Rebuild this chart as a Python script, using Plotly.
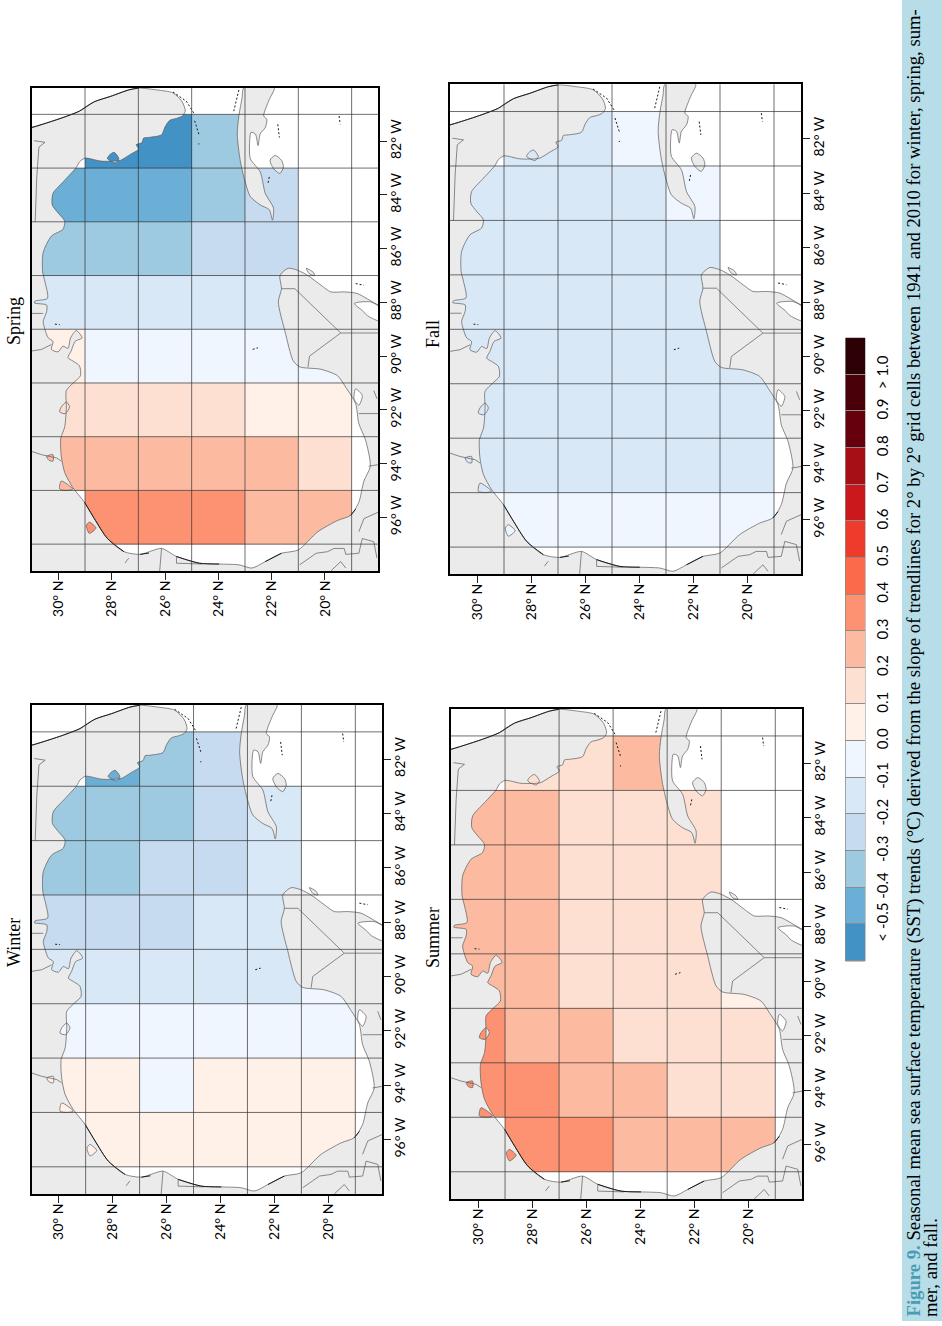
import plotly.graph_objects as go

nan = None

# grid cell centres, degrees
lats = [30, 28, 26, 24, 22, 20]
lons = [82, 84, 86, 88, 90, 92, 94, 96]
lat_grid = [29, 27, 25, 23, 21, 19]
lon_grid = [81, 83, 85, 87, 89, 91, 93, 95, 97]
lat_ticks = [30, 28, 26, 24, 22, 20]
lon_ticks = [82, 84, 86, 88, 90, 92, 94, 96]

# SST trend per cell (bin middle), rows by longitude, columns by latitude
winter = [
    [nan, -0.45, -0.35, -0.25, nan, nan],
    [-0.35, -0.35, -0.35, -0.25, -0.15, nan],
    [-0.35, -0.35, -0.25, -0.25, -0.15, nan],
    [-0.25, -0.25, -0.25, -0.15, -0.15, nan],
    [-0.15, -0.15, -0.15, -0.15, -0.15, -0.05],
    [-0.05, -0.05, -0.05, -0.05, -0.05, -0.05],
    [0.05, 0.05, -0.05, 0.05, 0.05, 0.05],
    [nan, 0.05, 0.05, 0.05, 0.05, 0.05],
]
spring = [
    [nan, -0.55, -0.55, -0.35, nan, nan],
    [-0.45, -0.45, -0.45, -0.35, -0.25, nan],
    [-0.35, -0.35, -0.35, -0.25, -0.25, nan],
    [-0.15, -0.15, -0.15, -0.15, -0.15, nan],
    [0.05, -0.05, -0.05, -0.05, -0.05, -0.05],
    [0.15, 0.15, 0.15, 0.15, 0.05, 0.05],
    [0.25, 0.25, 0.25, 0.25, 0.25, 0.15],
    [nan, 0.35, 0.35, 0.35, 0.25, 0.25],
]
summer = [
    [nan, 0.15, 0.15, 0.25, nan, nan],
    [0.25, 0.25, 0.15, 0.15, 0.15, nan],
    [0.25, 0.25, 0.15, 0.15, 0.15, nan],
    [0.25, 0.25, 0.15, 0.15, 0.15, nan],
    [0.25, 0.25, 0.15, 0.15, 0.15, 0.05],
    [0.35, 0.25, 0.25, 0.15, 0.15, 0.15],
    [0.35, 0.35, 0.25, 0.25, 0.15, 0.15],
    [nan, 0.35, 0.35, 0.25, 0.25, 0.25],
]
fall = [
    [nan, -0.15, -0.15, -0.05, nan, nan],
    [-0.15, -0.15, -0.15, -0.15, -0.05, nan],
    [-0.15, -0.15, -0.15, -0.15, -0.15, nan],
    [-0.15, -0.15, -0.15, -0.15, -0.15, nan],
    [-0.15, -0.15, -0.15, -0.15, -0.15, -0.15],
    [-0.15, -0.15, -0.15, -0.15, -0.15, -0.15],
    [-0.15, -0.15, -0.15, -0.15, -0.15, -0.15],
    [nan, -0.05, -0.05, -0.05, -0.05, -0.05],
]

# legend classes
bin_colors = ["#4292c6", "#6baed6", "#9ecae1", "#c6dbef", "#d8e8f7", "#eff6ff",
              "#fff0e8", "#fee0d2", "#fcbba1", "#fc9272", "#fb6a4a", "#ef3b2c",
              "#cb181d", "#a50f15", "#67000d", "#4a0008", "#2d0006"]
bin_mids = [-0.55, -0.45, -0.35, -0.25, -0.15, -0.05, 0.05, 0.15, 0.25, 0.35,
            0.45, 0.55, 0.65, 0.75, 0.85, 0.95, 1.05]
bin_ticks = [-0.5, -0.4, -0.3, -0.2, -0.1, 0.0, 0.1, 0.2, 0.3, 0.4, 0.5, 0.6,
             0.7, 0.8, 0.9, 1.0]
bin_labels = ["< -0.5", "-0.4", "-0.3", "-0.2", "-0.1", "0.0", "0.1", "0.2", "0.3",
              "0.4", "0.5", "0.6", "0.7", "0.8", "0.9", "> 1.0"]

land_lat = [32.0, 31.0, 30.5, 29.83, 29.21, 29.0, 28.65, 28.04, 27.36, 26.99, 26.31, 25.7, 25.35,
            25.24, 25.35, 25.57, 25.82, 26.0, 26.13, 26.62, 26.8, 26.87, 27.08, 26.99, 27.3,
            27.67, 27.85, 28.41, 29.0, 29.21, 29.33, 29.76, 30.2, 30.23, 30.01, 29.76, 29.83,
            30.26, 30.57, 30.59, 30.5, 30.41, 30.87, 30.9, 30.44, 30.44, 30.57, 30.5, 30.38,
            30.2, 30.26, 30.01, 29.83, 29.64, 29.54, 29.33, 29.11, 29.37, 29.52, 29.64, 29.46,
            29.21, 29.17, 29.42, 29.7, 29.7, 29.76, 29.91, 29.89, 29.76, 29.46, 29.02, 28.65,
            28.16, 27.54, 26.93, 26.13, 25.57, 24.71, 23.97, 23.23, 22.74, 22.24, 21.63, 21.01,
            20.27, 19.53, 19.04, 18.73, 18.54, 18.3, 18.48, 18.73, 18.85, 19.22, 19.53, 20.15,
            20.95, 21.19, 21.5, 21.75, 21.63, 21.69, 21.38, 21.01, 20.64, 20.15, 19.78, 19.28,
            18.79, 18.0, 17.0, 17.0, 32.0, 32.0, None,
            28.1, 28.16, 27.85, 27.73, 27.91, 28.1, None,
            29.7, 29.89, 29.95, 29.74, 29.58, 29.7, None,
            30.44, 30.35, 30.2, 30.2, 30.44, None,
            29.89, 29.95, 29.7, 29.46, 29.89, None,
            28.84, 28.95, 28.84, 28.59, 28.84, None,
            18.85, 18.91, 18.73, 18.6, 18.85, None,
            18.9, 18.6, 18.4, 17.9, 17.9, 18.3, 18.9, None,
            23.04, 21.9, 22.09, 22.3, 22.18, 22.24, 22.43, 22.51, 22.61, 22.77, 22.83, 22.8,
            22.43, 22.24, 21.93, 21.97, 22.09, 22.43, 22.8, 23.01, 23.18, 23.29, 23.23, 23.11,
            23.04, None,
            22.06, 21.87, 21.63, 21.56, 21.69, 21.93, 22.06, None,
            20.7, 20.45, 20.39, 20.58, 20.7]
land_lon = [81.55, 81.49, 81.34, 81.12, 80.88, 80.73, 80.53, 80.33, 80.09, 80.02, 80.09, 80.2, 80.54,
            80.88, 81.06, 81.15, 81.22, 81.47, 81.76, 81.86, 81.88, 82.06, 82.13, 82.29, 82.49,
            82.71, 82.74, 82.74, 82.63, 82.77, 82.98, 83.45, 83.94, 84.37, 84.67, 84.98, 85.28,
            85.53, 86.14, 86.87, 87.24, 87.85, 87.95, 88.02, 88.1, 88.34, 88.71, 89.02, 89.32,
            89.45, 89.75, 89.84, 89.63, 89.71, 89.32, 89.05, 89.32, 89.45, 89.81, 90.06, 90.18,
            90.36, 90.73, 90.98, 91.28, 91.89, 92.63, 93.06, 93.73, 94.34, 94.89, 95.44, 96.05,
            96.79, 97.28, 97.38, 97.16, 97.46, 97.71, 97.74, 97.77, 97.89, 97.65, 97.34, 97.22,
            96.54, 96.12, 95.93, 95.44, 94.65, 94.1, 93.12, 92.51, 91.77, 91.16, 90.73, 90.49,
            90.4, 90.18, 89.08, 87.98, 87.49, 87.0, 86.73, 86.81, 87.0, 87.36, 87.61, 87.61,
            87.67, 88.1, 88.5, 99.0, 99.0, 81.55, None,
            82.53, 82.65, 82.8, 82.65, 82.41, 82.53, None,
            91.71, 91.89, 92.08, 92.14, 91.89, 91.71, None,
            93.73, 93.88, 93.91, 93.67, 93.73, None,
            94.65, 94.95, 95.0, 94.95, 94.65, None,
            96.18, 96.3, 96.6, 96.4, 96.18, None,
            91.22, 91.59, 91.83, 91.47, 91.22, None,
            88.04, 88.3, 88.5, 88.7, 88.22, 87.98, 88.04, None,
            80.0, 80.0, 80.45, 81.06, 81.18, 81.49, 81.73, 82.16, 81.73, 81.67, 82.1, 82.65,
            83.14, 83.94, 84.49, 84.94, 84.55, 84.37, 84.06, 83.45, 82.71, 81.73, 81.06, 80.39,
            80.0, None,
            82.71, 82.53, 82.71, 82.96, 83.2, 83.02, 82.71, None,
            86.73, 86.87, 87.0, 86.94, 86.73]

# state and river lines
border_lat = [30.91, 30.5, 30.73, 30.81, 30.87, None,
              31.0, 30.63, 30.07, 29.89, None,
              31.0, 30.63, 30.26, None,
              31.0, 30.57, None,
              21.63, 21.13, 19.41, 18.0, None,
              19.41, 20.58, 20.64, None,
              20.95, 20.33, 19.9, 19.66, 19.28, 19.22, 18.73, 18.6, 18.17, 18.05, None,
              19.78, 19.41, 19.22, None,
              18.73, 18.54, 18.0, None,
              18.36, 18.0, None,
              18.73, 18.0, None,
              18.17, 18.05, None,
              26.13, 26.2, None,
              25.57, 25.57, 24.59, None,
              27.36, 27.5]
border_lon = [81.98, 82.04, 82.22, 83.33, 85.0, None,
              93.55, 93.67, 93.79, 93.91, None,
              89.81, 89.75, 89.57, None,
              88.41, 88.41, None,
              87.49, 87.49, 89.14, 89.14, None,
              89.14, 90.0, 90.42, None,
              97.77, 97.34, 97.28, 97.16, 97.16, 97.38, 97.34, 96.79, 96.91, 97.52, None,
              98.0, 97.65, 97.89, None,
              96.54, 96.05, 95.81, None,
              94.1, 94.04, None,
              92.14, 92.14, None,
              91.28, 91.59, None,
              97.16, 98.0, None,
              97.46, 97.71, 97.74, None,
              97.52, 97.7]

# dark barrier islands
barrier_lat = [31.0, 30.5, 29.83, 29.21, 28.65, 28.04, 27.36, 26.99, None,
               29.02, 28.65, 28.16, 27.54, None,
               26.93, 26.6, None,
               25.57, 24.71, 23.97, None,
               22.24, 21.63, None,
               19.04, 18.85]
barrier_lon = [81.49, 81.34, 81.12, 80.88, 80.53, 80.33, 80.09, 80.02, None,
               95.44, 96.05, 96.79, 97.28, None,
               97.38, 97.33, None,
               97.46, 97.71, 97.74, None,
               97.65, 97.34, None,
               95.93, 95.7]

# keys and small islands, broken up
keys_lat = [25.7, 25.2, 24.89, None, 24.89, 24.71, None, 24.73, 24.73, None,
            23.23, 23.42, None, 21.77, 21.71, None, 19.47, 19.43, None,
            18.85, 18.54, None, 22.71, 22.51, None, 30.13, 29.95, None, 22.09, 22.14]
keys_lon = [80.17, 80.51, 81.0, None, 81.24, 81.8, None, 82.08, 82.12, None,
            80.09, 80.88, None, 81.37, 81.86, None, 81.06, 81.37, None,
            87.3, 87.36, None, 89.75, 89.69, None, 88.81, 88.83, None, 83.33, 83.57]

W, H = 942, 1326
panels = [
    dict(name="Spring", z=spring, box=(31.7, 378.3, 87.5, 571), title_x=14, title_y=321),
    dict(name="Winter", z=winter, box=(31.7, 382.3, 704.7, 1194), title_x=14, title_y=943),
    dict(name="Summer", z=summer, box=(451, 802.3, 708.7, 1199), title_x=433, title_y=938),
    dict(name="Fall", z=fall, box=(450, 801, 84.3, 574.3), title_x=433, title_y=334),
]

colorscale = []
for i, c in enumerate(bin_colors):
    colorscale += [[i / len(bin_colors), c], [(i + 1) / len(bin_colors), c]]

fig = go.Figure()
shapes = []
annotations = []
layout = {}

for n, p in enumerate(panels, start=1):
    xa, ya = ("x", "y") if n == 1 else (f"x{n}", f"y{n}")
    fig.add_trace(go.Heatmap(x=lats, y=lons, z=p["z"], xaxis=xa, yaxis=ya, zmin=-0.6, zmax=1.1,
                             colorscale=colorscale, showscale=False, hoverongaps=False))
    fig.add_trace(go.Scatter(x=land_lat, y=land_lon, xaxis=xa, yaxis=ya, mode="lines", fill="toself",
                             fillcolor="#ebebeb", hoverinfo="skip",
                             line=dict(color="#5a5a5a", width=0.7, shape="spline", smoothing=0.7)))
    fig.add_trace(go.Scatter(x=border_lat, y=border_lon, xaxis=xa, yaxis=ya, mode="lines",
                             line=dict(color="#5a5a5a", width=0.7), hoverinfo="skip"))
    fig.add_trace(go.Scatter(x=barrier_lat, y=barrier_lon, xaxis=xa, yaxis=ya, mode="lines", hoverinfo="skip",
                             line=dict(color="#1a1a1a", width=1.0, shape="spline", smoothing=0.7)))
    fig.add_trace(go.Scatter(x=keys_lat, y=keys_lon, xaxis=xa, yaxis=ya, mode="lines", hoverinfo="skip",
                             line=dict(color="#1a1a1a", width=1.0, dash="2px,2px")))

    left, right, top, bottom = p["box"]
    layout["xaxis" if n == 1 else f"xaxis{n}"] = dict(
        domain=[left / W, right / W], anchor=ya, range=[31, 18], side="bottom",
        tickvals=lat_ticks, ticktext=[f"{v}° N" for v in lat_ticks], tickangle=-90,
        ticks="outside", ticklen=7, tickcolor="#222", ticklabelstandoff=-5, showgrid=False, zeroline=False,
        showline=True, mirror=True, linecolor="black", linewidth=2,
        tickfont=dict(family="Lato", size=14, color="black"))
    layout["yaxis" if n == 1 else f"yaxis{n}"] = dict(
        domain=[1 - bottom / H, 1 - top / H], anchor=xa, range=[98, 80], side="right",
        tickvals=lon_ticks, ticktext=[f"{v}° W" for v in lon_ticks], tickangle=-90,
        ticks="outside", ticklen=7, tickcolor="#222", ticklabelstandoff=-3, showgrid=False, zeroline=False,
        showline=True, mirror=True, linecolor="black", linewidth=2,
        tickfont=dict(family="Lato", size=14, color="black"))

    # grid sits on top of the cells and the land
    grid_line = dict(color="rgba(50,50,50,0.7)", width=1)
    for v in lat_grid:
        shapes.append(dict(type="line", xref=xa, yref=f"{ya} domain", x0=v, x1=v, y0=0, y1=1,
                           line=grid_line, layer="above"))
    for v in lon_grid:
        shapes.append(dict(type="line", xref=f"{xa} domain", yref=ya, x0=0, x1=1, y0=v, y1=v,
                           line=grid_line, layer="above"))

    annotations.append(dict(text=p["name"], xref="paper", yref="paper", x=p["title_x"] / W,
                            y=1 - p["title_y"] / H, xanchor="center", yanchor="middle",
                            textangle=-90, showarrow=False,
                            font=dict(family="Liberation Serif", size=18, color="black")))

# class legend
fig.add_trace(go.Heatmap(x=[0], y=bin_mids, z=[[v] for v in bin_mids], xaxis="x5", yaxis="y5",
                         zmin=-0.6, zmax=1.1, colorscale=colorscale, showscale=False, ygap=1))
layout["xaxis5"] = dict(domain=[845.5 / W, 865 / W], anchor="y5", showticklabels=False, ticks="",
                        showgrid=False, zeroline=False, range=[-0.5, 0.5])
layout["yaxis5"] = dict(domain=[1 - 961 / H, 1 - 338 / H], anchor="x5", side="right", range=[-0.6, 1.1],
                        tickvals=bin_ticks, ticktext=bin_labels, tickangle=-90, ticks="outside",
                        ticklen=4, tickcolor="rgba(0,0,0,0)", showgrid=False, zeroline=False,
                        tickfont=dict(family="Lato", size=15, color="black"))
shapes.append(dict(type="rect", xref="paper", yref="paper", x0=845.5 / W, x1=865 / W, y0=1 - 961 / H,
                   y1=1 - 338 / H, fillcolor="#8c8c8c", line=dict(color="#8c8c8c", width=1), layer="below"))

# caption band
shapes.append(dict(type="rect", xref="paper", yref="paper", x0=902 / W, x1=1, y0=1 - 1321 / H, y1=1,
                   fillcolor="#b7dee8", line=dict(width=0), layer="below"))
annotations.append(dict(
    text='<b><span style="color:#4a9bb3">Figure 9.</span></b> Seasonal mean sea surface temperature (SST) '
         'trends (°C) derived from the slope of trendlines for 2° by 2° grid cells between 1941 and 2010 '
         'for winter, spring, sum-',
    xref="paper", yref="paper", x=913 / W, y=1 - 1319 / H, xanchor="center", yanchor="bottom",
    textangle=-90, showarrow=False, font=dict(family="Liberation Serif", size=18.7, color="black")))
annotations.append(dict(
    text="mer, and fall.", xref="paper", yref="paper", x=930.5 / W, y=1 - 1319 / H, xanchor="center",
    yanchor="bottom", textangle=-90, showarrow=False,
    font=dict(family="Liberation Serif", size=18.7, color="black")))

fig.update_layout(width=W, height=H, margin=dict(l=0, r=0, t=0, b=0), showlegend=False,
                  paper_bgcolor="white", plot_bgcolor="white", shapes=shapes,
                  annotations=annotations, **layout)

fig.write_html("out.html", config=dict(displayModeBar=False),
               post_script="document.body.style.margin='0';")
